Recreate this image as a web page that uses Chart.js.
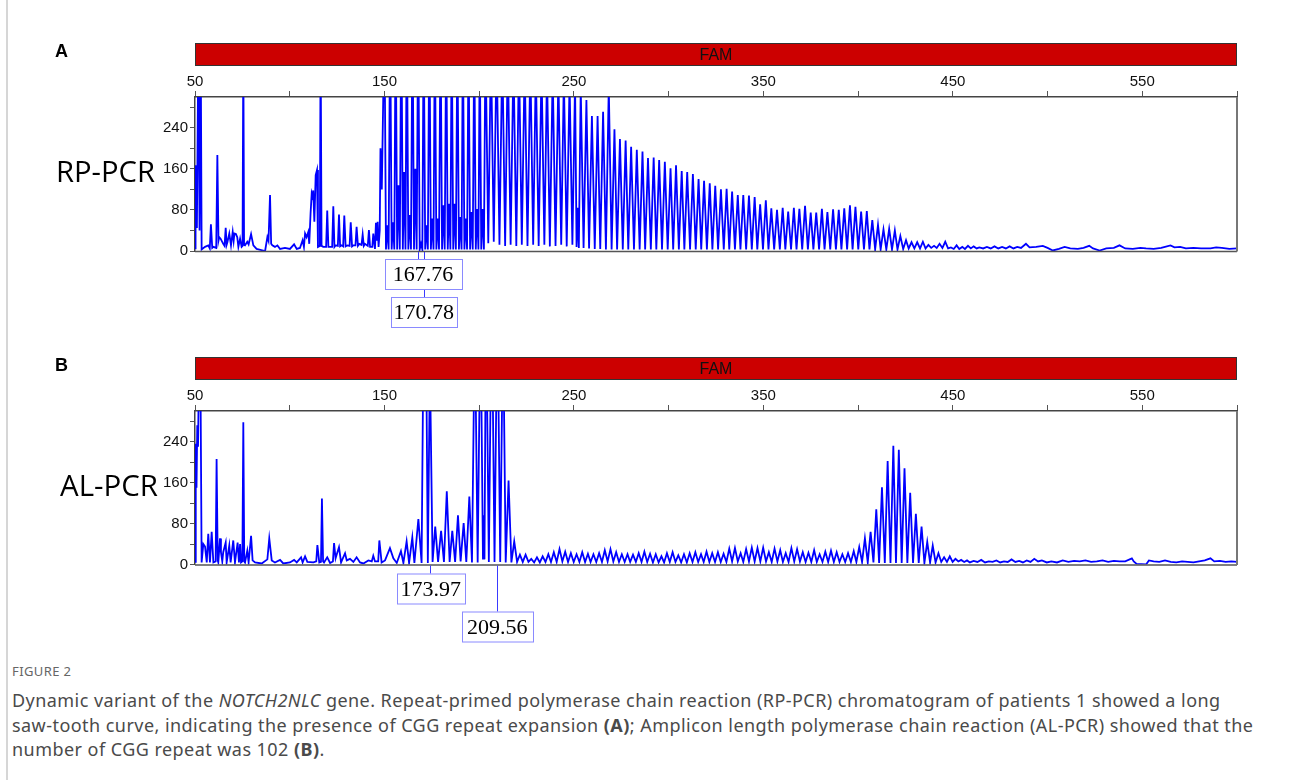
<!DOCTYPE html>
<html>
<head>
<meta charset="utf-8">
<script src="https://cdn.jsdelivr.net/npm/chart.js@4.4.1/dist/chart.umd.min.js"></script>
<style>
  body { margin: 0; background: #fff; }
  #page { position: relative; width: 1290px; height: 780px; overflow: hidden; font-family: "Noto Sans", sans-serif; }
  .edge { position: absolute; left: 6px; top: 0; width: 2px; height: 780px; background: #d6d6d6; }
  canvas { position: absolute; left: 0; }
  #capHead { position: absolute; left: 12px; top: 662px; font-size: 13px; color: #666; letter-spacing: 0.4px; }
  #capText { position: absolute; left: 12px; top: 688px; width: 1275px; font-size: 18px; letter-spacing: 0.45px; line-height: 24.5px; color: #4a4a4a; white-space: nowrap; }
</style>
</head>
<body>
<div id="page">
  <div class="edge"></div>
  <canvas id="rpChart" width="1290" height="345" style="top:0"></canvas>
  <canvas id="alChart" width="1290" height="340" style="top:320px"></canvas>
  <div id="capHead">FIGURE 2</div>
  <div id="capText">Dynamic variant of the <i>NOTCH2NLC</i> gene. Repeat-primed polymerase chain reaction (RP-PCR) chromatogram of patients 1 showed a long<br>saw-tooth curve, indicating the presence of CGG repeat expansion <b>(A)</b>; Amplicon length polymerase chain reaction (AL-PCR) showed that the<br>number of CGG repeat was 102 <b>(B)</b>.</div>
</div>
<script>
// axis ticks (size in bp, signal in RFU)
const sizeTicks = [50, 100, 150, 200, 250, 300, 350, 400, 450, 500, 550, 600];
const sizeLabels = [50, 150, 250, 350, 450, 550];
const rfuTicks = [0, 40, 80, 120, 160, 200, 240, 280];
const rfuLabels = [0, 80, 160, 240];

// RP-PCR trace, [size bp, RFU]
const rpLeadTrace = [
  [50.0,5],[50.1,167],[50.5,83],[51.0,45],[51.8,420],[52.4,40],[53.0,420],[53.5,3],[55.3,8],[57.0,11],[57.8,5],
  [58.4,52],[59.1,6],[59.7,8],[61.2,6],[61.8,187],[62.4,20],[62.8,27],[63.5,24],[64.9,14],[65.6,10],[66.2,45],
  [66.7,12],[67.1,17],[68.1,34],[69.0,11],[69.9,37],[70.4,20],[70.8,34],[71.6,33],[72.3,27],[72.9,8],[73.8,24],
  [74.6,8],[75.1,10],[75.5,400],[75.9,12],[76.4,11],[77.6,18],[78.3,13],[79.6,33],[80.8,11],[82.5,4],[87.0,0],
  [88.2,27],[88.8,20],[89.6,109],[90.2,14],[90.8,11],[92.2,8],[93.5,11],[94.9,4],[97.5,6],[100.1,4],[102.3,13],
  [103.7,4],[105.4,6],[106.8,21],[107.5,8],[108.1,34],[108.9,27],[109.8,37],[110.3,14],[111.0,73],[111.6,112],
  [112.1,105],[112.4,118],[113.0,57],[113.7,148],[114.4,158],[114.9,8],[115.9,10],[116.3,420],[116.8,10],[117.7,8],
  [119.2,8],[119.8,79],[120.4,8],[121.3,8],[122.4,8],[123.0,87],[123.6,8],[124.2,11],[125.4,10],[126.0,71],[126.6,9],
  [127.4,11],[128.2,9],[128.8,69],[129.5,9],[130.4,11],[131.6,10],[132.2,56],[132.9,9],[133.6,11],[134.7,11],
  [135.3,47],[136.0,10],[136.7,14],[137.9,12],[138.5,32],[139.1,10],[139.7,14],[141.2,10],[141.8,41],[142.4,8],
  [142.9,8],[143.6,8],[144.1,34],[145.0,4],[145.5,55],[146.0,20],[146.4,57],[146.9,8],[147.5,40],[147.9,200],[148.6,120]
];
const rpRepeatTrace = [
  [150.0,450],[150.8,3],[151.5,50],[152.2,3],[153.0,460],[153.8,3],[154.5,56],[155.2,3],
  [155.9,470],[156.7,3],[157.4,128],[158.1,3],[158.9,480],[159.7,3],[160.4,154],[161.1,3],
  [161.8,480],[162.6,3],[163.3,70],[164.0,3],[164.8,470],[165.6,3],[166.3,160],[167.0,3],
  [167.8,470],[168.6,3],[169.3,14],[170.0,3],[170.7,460],[171.5,3],[172.2,50],[172.9,3],
  [173.7,460],[174.5,3],[175.2,63],[175.9,3],[176.6,450],[177.4,3],[178.1,63],[178.8,3],
  [179.6,450],[180.4,3],[181.1,89],[181.8,3],[182.6,440],[183.4,3],[184.1,92],[184.8,3],
  [185.5,440],[186.3,3],[187.0,92],[187.7,3],[188.5,430],[189.3,3],[190.0,66],[190.7,3],
  [191.4,430],[192.2,3],[192.9,63],[193.6,3],[194.4,420],[195.2,3],[195.9,76],[196.6,3],
  [197.4,420],[198.2,3],[198.9,82],[199.6,3],[200.3,410],[201.1,3],[201.8,82],[202.5,3],
  [203.3,410],[204.8,15],[206.2,400],[207.7,18],[209.2,400],[210.7,12],[212.2,390],[213.7,10],
  [215.1,390],[216.6,12],[218.1,380],[219.6,10],[221.0,380],[222.5,12],[224.0,370],[225.5,10],
  [227.0,370],[228.5,12],[229.9,360],[231.4,10],[232.9,360],[234.4,12],[235.8,350],[237.3,9],
  [238.8,350],[240.3,10],[241.8,340],[243.3,12],[244.7,340],[246.2,9],[247.7,330],[249.2,12],
  [250.6,330],[251.4,8],[252.1,84],[252.6,6],[253.6,320],[255.1,6],[256.6,294],[258.0,5],
  [259.5,263],[261.0,4],[262.5,263],[263.9,4],[265.4,271],[266.9,3],[268.4,320],[269.9,3],
  [271.4,237],[272.8,3],[274.3,218],[275.8,3],[277.3,215],[278.7,3],[280.2,203],[281.7,3],
  [283.2,197],[284.7,3],[286.2,194],[287.6,3],[289.1,181],[290.6,3],[292.1,182],[293.5,3],
  [295.0,177],[296.5,3],[298.0,174],[299.5,3],[301.0,161],[302.4,3],[303.9,167],[305.4,3],
  [306.9,156],[308.3,3],[309.8,154],[311.3,3],[312.8,150],[314.3,3],[315.8,140],[317.2,3],
  [318.7,137],[320.2,3],[321.7,132],[323.1,3],[324.6,127],[326.1,3],[327.6,120],[329.1,3],
  [330.6,121],[332.0,3],[333.5,116],[335.0,3],[336.5,109],[337.9,3],[339.4,109],[340.9,3],
  [342.4,108],[343.9,3],[345.4,105],[346.8,3],[348.3,91],[349.8,3],[351.3,99],[352.7,3],
  [354.2,83],[355.7,3],[357.2,80],[358.7,3],[360.2,84],[361.6,3],[363.1,77],[364.6,3],
  [366.1,84],[367.5,3],[369.0,82],[370.5,3],[372.0,88],[373.5,3],[375.0,75],[376.4,3],
  [377.9,75],[379.4,3],[380.9,82],[382.3,3],[383.8,76],[385.3,3],[386.8,81],[388.3,3],
  [389.8,80],[391.2,3],[392.7,83],[394.2,3],[395.7,89],[397.1,3],[398.6,86],[400.1,3],
  [401.6,77],[403.1,3],[404.6,78],[406.0,3],[407.5,60],[409.0,3],[410.5,51],[411.9,3],
  [413.4,42],[414.9,3],[416.4,43],[417.9,3],[419.4,40],[420.8,3],[422.3,29],[423.8,4],
  [425.3,21],[426.7,5],[428.2,17],[429.7,5],[431.2,17],[432.7,5],[434.2,18],[435.6,5],
  [437.1,12],[438.6,6],[440.1,10],[441.5,6],[443.0,14],[444.5,6],[446.0,18],[447.5,5],[449.0,7]
];
const rpTailTrace = [
  [450.5,4],[452.0,11],[453.4,4],[455.0,8],[456.4,4],[458.0,10],[459.5,5],[461.0,9],[462.6,5],[464.0,7],
  [466.0,5],[468.0,8],[470.0,5],[472.0,9],[474.0,5],[476.0,8],[478.0,5],[480.0,9],[482.0,5],[484.0,8],
  [486.0,6],[488.6,14],[490.5,7],[494.0,8],[497.5,10],[500.0,6],[502.8,1],[506.0,4],[509.0,8],[512.0,5],
  [516.0,4],[519.0,6],[522.0,10],[524.0,5],[527.5,1],[531.0,5],[535.0,6],[538.0,11],[541.0,5],[545.0,4],
  [549.0,6],[552.0,5],[556.0,4],[560.0,6],[564.9,11],[567.0,7],[570.0,8],[573.0,5],[577.0,6],[581.0,5],
  [586.0,5],[589.0,7],[592.0,6],[596.0,4],[600.0,5]
];

// AL-PCR trace, [size bp, RFU]
const alLeadTrace = [
  [50.0,5],[50.4,236],[50.8,150],[51.2,272],[51.6,230],[52.2,420],[52.8,420],[53.5,4],[54.4,40],[55.3,35],
  [56.2,4],[57.0,60],[57.9,4],[58.8,64],[59.7,4],[60.9,6],[61.4,206],[62.0,8],[62.3,4],[63.2,51],[63.7,24],
  [64.4,6],[64.9,24],[66.2,43],[66.7,4],[68.1,37],[68.8,4],[70.2,47],[71.1,4],[72.5,43],[73.2,4],[73.8,40],
  [74.3,4],[75.0,6],[75.5,278],[76.0,6],[76.4,4],[77.6,27],[78.3,4],[79.6,56],[80.4,8],[81.7,4],[85.2,2],
  [88.2,10],[89.2,51],[90.5,8],[92.2,4],[94.9,9],[96.6,2],[100.1,4],[102.3,9],[103.7,4],[106.0,14],[106.8,4],
  [108.1,16],[109.3,5],[112.5,4],[114.0,6],[114.6,38],[115.6,4],[116.5,5],[117.0,129],[117.6,6],[118.1,4],
  [119.8,14],[121.3,3],[122.8,6],[123.4,42],[124.2,12],[126.0,34],[127.1,4],[129.2,22],[130.1,8],[131.8,11],
  [133.6,5],[135.3,14],[137.1,4],[138.9,2],[141.5,8],[143.3,6],[144.1,17],[145.0,6],[146.7,6],[147.3,47],
  [148.5,4],[150.3,8],[152.9,32],[154.7,12],[156.5,3],[158.7,26],[160.0,3],[161.7,45],[163.0,3],[164.7,53],
  [165.8,3],[167.9,89],[169.6,3]
];
const alRepeatTrace = [
  [171.3,750],[172.9,3],[174.0,390],[175.4,5],[176.8,74],[178.3,5],[179.9,66],[181.4,5],[182.9,143],[184.4,5],
  [185.8,66],[187.3,5],[188.8,96],[190.2,6],[191.8,81],[193.2,5],[194.8,133],[196.2,4],[197.7,480],[199.2,4],
  [200.7,500],[202.0,10],[202.4,96],[202.8,10],[203.6,520],[205.1,5],[206.6,540],[208.1,5],[209.6,520],[211.1,5],
  [212.6,480],[214.0,4],[215.5,164],[217.0,4],[218.5,45],[220.0,5],[221.5,19],[223.0,5],[224.5,19],[226.0,5],
  [227.5,11],[229.0,4],[230.5,14],[232.0,4],[233.5,16],[235.0,5],[236.5,20],[237.9,5],[239.4,24],[240.9,5],
  [242.4,30],[243.9,6],[245.4,25],[246.9,5],[248.4,22],[249.9,5],[251.4,20],[252.9,5],[254.4,24],[255.9,5],
  [257.4,21],[258.8,5],[260.3,20],[261.8,5],[263.3,22],[264.8,5],[266.3,28],[267.8,6],[269.3,30],[270.8,6],
  [272.3,24],[273.8,5],[275.3,20],[276.8,5],[278.3,20],[279.7,5],[281.2,19],[282.7,5],[284.2,22],[285.7,5],
  [287.2,25],[288.7,5],[290.2,21],[291.7,4],[293.2,20],[294.7,4],[296.2,16],[297.6,4],[299.1,22],[300.6,5],
  [302.1,24],[303.6,5],[305.1,18],[306.6,4],[308.1,20],[309.6,4],[311.1,22],[312.6,5],[314.1,24],[315.6,5],
  [317.1,20],[318.5,5],[320.0,25],[321.5,5],[323.0,22],[324.5,5],[326.0,24],[327.5,5],[329.0,21],[330.5,5],
  [332.0,31],[333.5,6],[335.0,32],[336.5,6],[338.0,22],[339.4,5],[340.9,30],[342.4,6],[343.9,33],[345.4,6],
  [346.9,32],[348.4,6],[349.9,33],[351.4,6],[352.9,24],[354.4,5],[355.9,31],[357.4,6],[358.9,28],[360.3,5],
  [361.8,22],[363.3,5],[364.8,32],[366.3,6],[367.8,30],[369.3,6],[370.8,24],[372.3,5],[373.8,23],[375.3,5],
  [376.8,28],[378.2,5],[379.7,20],[381.2,5],[382.7,25],[384.2,5],[385.7,27],[387.2,5],[388.7,24],[390.2,5],
  [391.7,20],[393.2,5],[394.7,22],[396.2,5],[397.7,26],[399.1,5],[400.6,34],[402.1,5],[403.6,51],[405.1,4],
  [406.6,64],[408.1,4],[409.6,108],[411.1,3],[412.6,151],[414.1,3],[415.6,202],[417.1,3],[418.6,232],[420.0,3],
  [421.5,224],[423.0,3],[424.5,188],[426.0,3],[427.5,140],[429.0,3],[430.5,99],[432.0,3],[433.5,74],[435.0,3],
  [436.5,44],[438.0,4],[439.4,37],[440.9,4],[442.4,22],[443.9,5],[445.4,14],[446.9,5],[448.4,16],[449.9,5],[451.4,11]
];
const alTailTrace = [
  [452.9,6],[454.4,9],[456.0,5],[457.5,8],[459.0,4],[461.0,7],[463.0,5],[465.0,9],[467.0,4],[469.0,6],
  [471.0,5],[473.0,8],[475.0,4],[477.0,6],[479.0,5],[481.0,10],[483.0,5],[485.0,7],[487.0,4],[489.0,8],
  [491.0,5],[493.0,11],[495.0,6],[497.0,8],[499.6,4],[502.0,6],[505.0,4],[508.0,8],[511.0,5],[514.0,7],
  [517.0,6],[520.0,8],[523.0,5],[526.0,6],[529.0,8],[532.0,5],[535.0,7],[538.0,6],[541.0,6],[544.5,12],
  [545.5,6],[547.0,1],[552.0,0],[553.5,8],[556.0,6],[559.0,5],[562.0,8],[565.0,5],[568.0,4],[571.0,6],
  [574.0,5],[577.0,4],[580.0,6],[583.0,8],[586.0,12],[588.0,6],[591.0,7],[594.0,5],[597.0,6],[600.0,5]
];

// sized peaks called out under each trace
const rpMarkers = [167.76, 170.78];
const alMarkers = [173.97, 209.56];

const decorPlugin = {
  id: 'decor',
  afterDraw(chart, args, o) {
    const { ctx, chartArea: a, scales: { x } } = chart;
    ctx.save();
    // right + bottom frame
    ctx.strokeStyle = '#555';
    ctx.lineWidth = 1.5;
    ctx.beginPath();
    ctx.moveTo(a.left, a.bottom + 0.5);
    ctx.lineTo(a.right, a.bottom + 0.5);
    ctx.stroke();
    ctx.strokeStyle = '#777';
    ctx.lineWidth = 2;
    ctx.beginPath();
    ctx.moveTo(a.right, a.bottom + 0.5);
    ctx.lineTo(a.right, a.top);
    ctx.stroke();

    // dye bar
    const barTop = a.top - 54;
    ctx.fillStyle = '#cc0000';
    ctx.fillRect(a.left, barTop, a.right - a.left, 22.5);
    ctx.strokeStyle = '#333';
    ctx.lineWidth = 1;
    ctx.strokeRect(a.left + 0.5, barTop + 0.5, a.right - a.left - 1, 22);
    ctx.fillStyle = '#111';
    ctx.font = '16px "Liberation Sans", Arial, sans-serif';
    ctx.textAlign = 'center';
    ctx.textBaseline = 'middle';
    ctx.fillText(o.dye, (a.left + a.right) / 2, barTop + 12.5);

    // panel letter
    ctx.fillStyle = '#000';
    ctx.font = 'bold 18px "Liberation Sans", Arial, sans-serif';
    ctx.textAlign = 'left';
    ctx.textBaseline = 'alphabetic';
    ctx.fillText(o.letter, 55, a.top - 40);

    // method label, squeezed to the printed width
    ctx.font = '30px "Open Sans", sans-serif';
    const w = ctx.measureText(o.method).width;
    ctx.save();
    ctx.translate(o.methodLeft, a.top + 85);
    ctx.scale(o.methodWidth / w, 1);
    ctx.fillText(o.method, 0, 0);
    ctx.restore();

    // marker leaders then boxes
    const boxes = o.markers.map((m, i) => {
      const px = x.getPixelForValue(m);
      const top = a.bottom + o.boxTop[i];
      return { m, px, top, cx: px + o.boxShift[i], w: o.boxWidth[i] };
    });
    ctx.strokeStyle = '#3a3aff';
    ctx.lineWidth = 1;
    boxes.forEach(b => {
      ctx.beginPath();
      ctx.moveTo(Math.round(b.px) + 0.5, a.bottom + 1);
      ctx.lineTo(Math.round(b.px) + 0.5, b.top);
      ctx.stroke();
    });
    boxes.forEach(b => {
      const l = Math.round(b.cx - b.w / 2) + 0.5;
      ctx.fillStyle = '#fff';
      ctx.fillRect(l, b.top + 0.5, b.w, 30);
      ctx.strokeStyle = '#8a8aff';
      ctx.strokeRect(l, b.top + 0.5, b.w, 30);
      ctx.fillStyle = '#000';
      ctx.font = '22px "Liberation Serif", "Times New Roman", serif';
      ctx.textAlign = 'center';
      ctx.textBaseline = 'middle';
      ctx.fillText(b.m.toFixed(2), b.cx, b.top + 16.5);
    });
    ctx.restore();
  }
};

function makePanel(id, trace, pad, decor) {
  const tickFont = { family: '"Liberation Sans", Arial, sans-serif', size: 15 };
  return new Chart(document.getElementById(id), {
    type: 'line',
    data: {
      datasets: [{
        data: trace.map(([x, y]) => ({ x, y })),
        borderColor: '#0000ff',
        borderWidth: 1.8,
        pointRadius: 0,
        tension: 0,
        fill: false
      }]
    },
    options: {
      responsive: false,
      animation: false,
      events: [],
      layout: { padding: pad },
      plugins: { legend: { display: false }, tooltip: { enabled: false }, decor },
      scales: {
        x: {
          type: 'linear', position: 'top', min: 50, max: 600,
          afterBuildTicks: s => { s.ticks = sizeTicks.map(v => ({ value: v })); },
          afterFit: s => { s.height = 25; },
          ticks: {
            autoSkip: false, maxRotation: 0, padding: 0, color: '#111', font: tickFont,
            callback: v => sizeLabels.includes(v) ? String(v) : ''
          },
          grid: { drawOnChartArea: false, drawTicks: true, tickLength: 6, color: '#555' },
          border: { display: true, color: '#444', width: 1.5 }
        },
        y: {
          min: 0, max: 300,
          afterBuildTicks: s => { s.ticks = rfuTicks.map(v => ({ value: v })); },
          afterFit: s => { s.width = 45; },
          ticks: {
            autoSkip: false, padding: 2, color: '#111', font: tickFont,
            callback: v => rfuLabels.includes(v) ? String(v) : ''
          },
          grid: { drawOnChartArea: false, drawTicks: true, tickLength: 5, color: '#555' },
          border: { display: true, color: '#444', width: 1.5 }
        }
      }
    },
    plugins: [decorPlugin]
  });
}

makePanel('rpChart', [...rpLeadTrace, ...rpRepeatTrace, ...rpTailTrace],
  { left: 150, right: 53, top: 72, bottom: 94 },
  { dye: 'FAM', letter: 'A', method: 'RP-PCR', methodLeft: 56, methodWidth: 99,
    markers: rpMarkers, boxTop: [8, 46], boxShift: [5, 0], boxWidth: [77, 66] });

makePanel('alChart', [...alLeadTrace, ...alRepeatTrace, ...alTailTrace],
  { left: 150, right: 53, top: 66, bottom: 95.5 },
  { dye: 'FAM', letter: 'B', method: 'AL-PCR', methodLeft: 60, methodWidth: 98,
    markers: alMarkers, boxTop: [9, 47], boxShift: [1, 0], boxWidth: [68, 71] });
</script>
</body>
</html>
